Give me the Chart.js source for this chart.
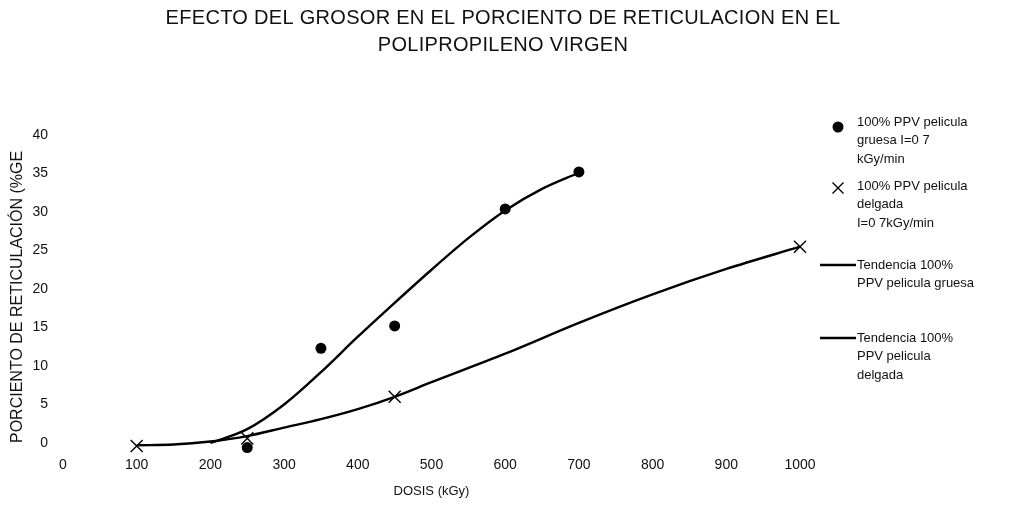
<!DOCTYPE html>
<html>
<head>
<meta charset="utf-8">
<script src="https://cdn.jsdelivr.net/npm/chart.js@4.4.1/dist/chart.umd.min.js"></script>
<style>
html,body{margin:0;padding:0;background:#fff;}
#wrap{width:1014px;height:507px;}
</style>
</head>
<body>
<div id="wrap"><canvas id="c" width="1014" height="507"></canvas></div>
<script>
// ---- data ----
const titleLines = ["EFECTO DEL GROSOR EN EL PORCIENTO DE RETICULACION EN EL", "POLIPROPILENO VIRGEN"];
const xTitle = "DOSIS (kGy)";
const yTitle = "PORCIENTO DE RETICULACIÓN (%GE";
const xTicks = [0, 100, 200, 300, 400, 500, 600, 700, 800, 900, 1000];
const yTicks = [0, 5, 10, 15, 20, 25, 30, 35, 40];

const dosisGruesa = [250, 350, 450, 600, 700];
const geGruesa = [-0.6, 12.3, 15.2, 30.4, 35.2];

const dosisDelgada = [100, 250, 450, 1000];
const geDelgada = [-0.4, 0.6, 6.0, 25.5];

const trendGruesaX = [200, 250, 300, 350, 400, 450, 500, 550, 600, 650, 700];
const trendGruesaY = [0.0, 1.8, 5.0, 9.2, 13.8, 18.2, 22.5, 26.6, 30.2, 33.0, 35.1];

const trendDelgadaX = [100, 150, 200, 250, 300, 350, 400, 450, 500, 600, 700, 800, 900, 1000];
const trendDelgadaY = [-0.3, -0.2, 0.2, 0.9, 2.0, 3.1, 4.4, 6.0, 7.9, 11.6, 15.6, 19.3, 22.6, 25.5];

const legendLabels = [
  ["100% PPV pelicula", "gruesa I=0 7", "kGy/min"],
  ["100% PPV pelicula", "delgada", "I=0 7kGy/min"],
  ["Tendencia 100%", "PPV pelicula gruesa"],
  ["Tendencia 100%", "PPV pelicula", "delgada"]
];

// ---- helpers ----
const pts = (xs, ys) => xs.map((x, i) => ({x: x, y: ys[i]}));
const FONT = "'Liberation Sans', Arial, sans-serif";

const decorPlugin = {
  id: 'decor',
  afterDraw(chart) {
    const ctx = chart.ctx;
    ctx.save();
    ctx.fillStyle = '#111';
    ctx.textAlign = 'center';
    ctx.textBaseline = 'middle';
    ctx.font = "20px " + FONT;
    try { ctx.letterSpacing = '0.3px'; } catch (e) {}
    ctx.fillText(titleLines[0], 503, 18);
    ctx.fillText(titleLines[1], 503, 45);
    try { ctx.letterSpacing = '0px'; } catch (e) {}

    // legend
    ctx.textAlign = 'left';
    ctx.font = "13px " + FONT;
    const tx = 857;
    const starts = [122, 186, 265, 338];
    const lh = 18.5;
    legendLabels.forEach((lines, i) => {
      lines.forEach((t, j) => ctx.fillText(t, tx, starts[i] + j * lh));
    });
    // markers
    ctx.fillStyle = '#000';
    ctx.beginPath(); ctx.arc(838, 127, 5.5, 0, Math.PI * 2); ctx.fill();
    ctx.strokeStyle = '#000'; ctx.lineWidth = 1.4;
    const cx = 838, cy = 188, s = 5.5;
    ctx.beginPath(); ctx.moveTo(cx - s, cy - s); ctx.lineTo(cx + s, cy + s);
    ctx.moveTo(cx + s, cy - s); ctx.lineTo(cx - s, cy + s); ctx.stroke();
    ctx.lineWidth = 2.4;
    ctx.beginPath(); ctx.moveTo(820, 265); ctx.lineTo(856, 265); ctx.stroke();
    ctx.beginPath(); ctx.moveTo(820, 338); ctx.lineTo(856, 338); ctx.stroke();
    ctx.restore();
  }
};

new Chart(document.getElementById('c'), {
  type: 'scatter',
  data: {
    datasets: [
      {
        label: 'gruesa',
        data: pts(dosisGruesa, geGruesa),
        pointStyle: 'circle', pointRadius: 5.5,
        backgroundColor: '#000', borderColor: '#000', borderWidth: 0,
        showLine: false, clip: false, order: 0
      },
      {
        label: 'delgada',
        data: pts(dosisDelgada, geDelgada),
        pointStyle: 'crossRot', pointRadius: 8.5,
        backgroundColor: '#000', borderColor: '#000', pointBorderWidth: 1.4,
        showLine: false, clip: false, order: 0
      },
      {
        label: 'trend gruesa',
        data: pts(trendGruesaX, trendGruesaY),
        showLine: true, pointRadius: 0, borderColor: '#000', borderWidth: 2.4,
        cubicInterpolationMode: 'monotone', clip: false, order: 1
      },
      {
        label: 'trend delgada',
        data: pts(trendDelgadaX, trendDelgadaY),
        showLine: true, pointRadius: 0, borderColor: '#000', borderWidth: 2.4,
        cubicInterpolationMode: 'monotone', clip: false, order: 1
      }
    ]
  },
  options: {
    responsive: false,
    animation: false,
    events: [],
    layout: { padding: { left: 0, right: 214, top: 135, bottom: 0 } },
    plugins: { legend: { display: false }, title: { display: false }, tooltip: { enabled: false } },
    scales: {
      x: {
        type: 'linear', min: 0, max: 1000,
        afterBuildTicks: s => { s.ticks = xTicks.map(v => ({value: v})); },
        afterFit: s => { s.height = 64; },
        grid: { display: false, drawTicks: false },
        border: { display: false },
        ticks: { color: '#111', font: { family: FONT, size: 14 }, padding: 14, maxRotation: 0,
                 callback: v => String(v) },
        title: { display: true, text: xTitle, color: '#111', font: { family: FONT, size: 13 }, padding: 8 }
      },
      y: {
        type: 'linear', min: 0, max: 40,
        afterBuildTicks: s => { s.ticks = yTicks.map(v => ({value: v})); },
        afterFit: s => { s.width = 63; },
        grid: { display: false, drawTicks: false },
        border: { display: false },
        ticks: { color: '#111', font: { family: FONT, size: 14 }, padding: 15, callback: v => String(v) },
        title: { display: true, text: yTitle, align: 'start', color: '#111', font: { family: FONT, size: 16 }, padding: 8 }
      }
    }
  },
  plugins: [decorPlugin]
});
</script>
</body>
</html>
